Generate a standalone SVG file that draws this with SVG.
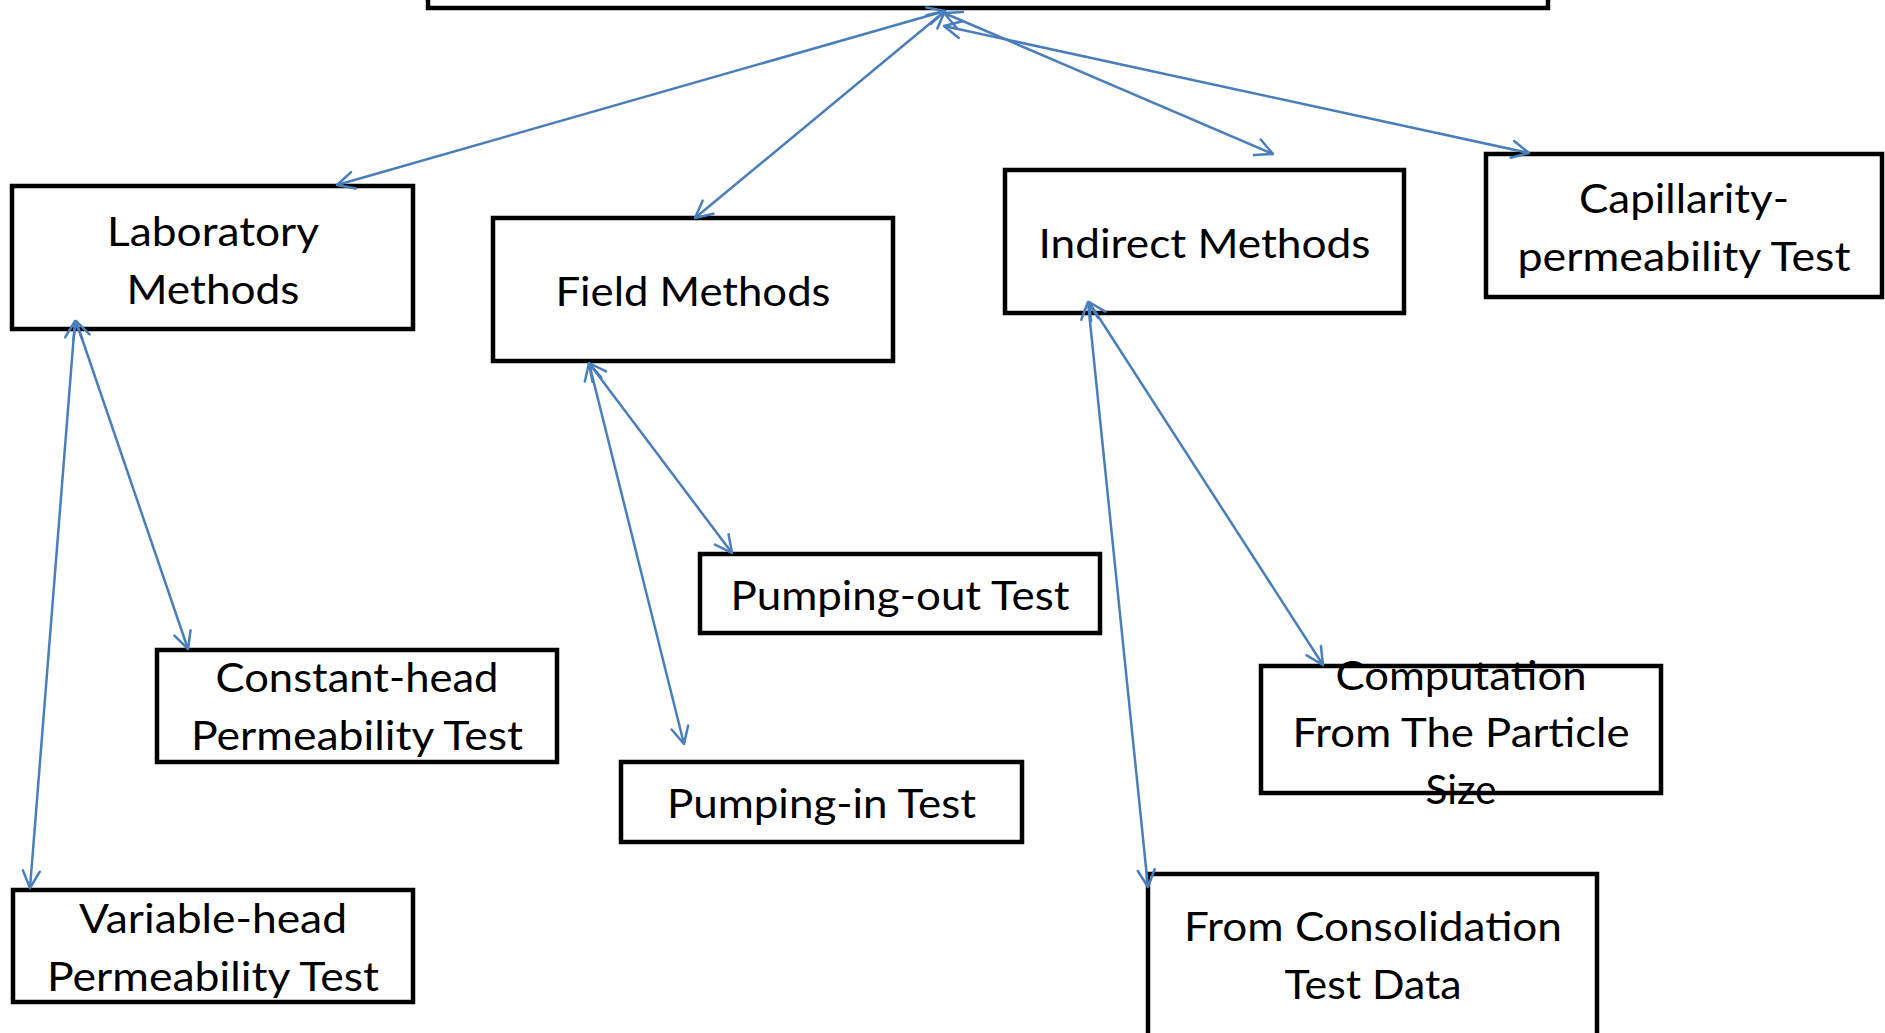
<svg xmlns="http://www.w3.org/2000/svg" width="1885" height="1033" viewBox="0 0 1885 1033">
  <style>
    .box { fill: #ffffff; stroke: #000000; stroke-width: 4.5; }
    .lbl { font-family: "Lato", "Liberation Sans", sans-serif; font-size: 40px; fill: #000000; text-anchor: middle; }
    .link { stroke: #4a7ebb; stroke-width: 2.5; fill: none; marker-start: url(#open); marker-end: url(#open); }
  </style>
  <defs>
    <!-- open V arrowhead used on both ends of every connector -->
    <marker id="open" markerUnits="userSpaceOnUse" markerWidth="40" markerHeight="40" viewBox="-20 -20 40 40" refX="0" refY="0" orient="auto-start-reverse">
      <path d="M-17,-8.5 L0,0 L-17,8.5" fill="none" stroke="#4a7ebb" stroke-width="2.5" stroke-linecap="round" stroke-linejoin="round"/>
    </marker>
  </defs>
  <rect width="1885" height="1033" fill="#ffffff"/>

  <!-- root box, mostly above the top edge -->
  <g id="root">
    <rect class="box" x="428" y="-100" width="1120" height="108"/>
  </g>

  <g id="laboratory">
    <rect class="box" x="12" y="186" width="401" height="143"/>
    <text class="lbl" x="213" y="246" textLength="212" lengthAdjust="spacingAndGlyphs">Laboratory</text>
    <text class="lbl" x="213" y="304" textLength="173" lengthAdjust="spacingAndGlyphs">Methods</text>
  </g>

  <g id="field">
    <rect class="box" x="493" y="218" width="400" height="143"/>
    <text class="lbl" x="693" y="306" textLength="275" lengthAdjust="spacingAndGlyphs">Field Methods</text>
  </g>

  <g id="indirect">
    <rect class="box" x="1005" y="170" width="399" height="143"/>
    <text class="lbl" x="1204.5" y="258" textLength="332" lengthAdjust="spacingAndGlyphs">Indirect Methods</text>
  </g>

  <g id="capillarity">
    <rect class="box" x="1486" y="154" width="396" height="143"/>
    <text class="lbl" x="1684" y="213" textLength="210" lengthAdjust="spacingAndGlyphs">Capillarity-</text>
    <text class="lbl" x="1684" y="271" textLength="333" lengthAdjust="spacingAndGlyphs">permeability Test</text>
  </g>

  <g id="constant-head">
    <rect class="box" x="157" y="650" width="400" height="112"/>
    <text class="lbl" x="357" y="692" textLength="283" lengthAdjust="spacingAndGlyphs">Constant-head</text>
    <text class="lbl" x="357" y="750" textLength="332" lengthAdjust="spacingAndGlyphs">Permeability Test</text>
  </g>

  <g id="variable-head">
    <rect class="box" x="13" y="890" width="400" height="112"/>
    <text class="lbl" x="213" y="933" textLength="268" lengthAdjust="spacingAndGlyphs">Variable-head</text>
    <text class="lbl" x="213" y="991" textLength="332" lengthAdjust="spacingAndGlyphs">Permeability Test</text>
  </g>

  <g id="pumping-out">
    <rect class="box" x="700" y="554" width="400" height="79"/>
    <text class="lbl" x="900" y="610" textLength="339" lengthAdjust="spacingAndGlyphs">Pumping-out Test</text>
  </g>

  <g id="pumping-in">
    <rect class="box" x="621" y="762" width="401" height="80"/>
    <text class="lbl" x="821.5" y="818" textLength="309" lengthAdjust="spacingAndGlyphs">Pumping-in Test</text>
  </g>

  <g id="particle-size">
    <rect class="box" x="1261" y="666" width="400" height="127"/>
    <text class="lbl" x="1461" y="690" textLength="251" lengthAdjust="spacingAndGlyphs">Computation</text>
    <text class="lbl" x="1461" y="747" textLength="337" lengthAdjust="spacingAndGlyphs">From The Particle</text>
    <text class="lbl" x="1461" y="804" textLength="71" lengthAdjust="spacingAndGlyphs">Size</text>
  </g>

  <g id="consolidation">
    <rect class="box" x="1148" y="874" width="449" height="170"/>
    <text class="lbl" x="1373" y="941" textLength="378" lengthAdjust="spacingAndGlyphs">From Consolidation</text>
    <text class="lbl" x="1373" y="999" textLength="177" lengthAdjust="spacingAndGlyphs">Test Data</text>
  </g>

  <g id="connectors">
    <line class="link" x1="945" y1="11" x2="337" y2="185"/>
    <line class="link" x1="945" y1="11" x2="695" y2="218"/>
    <line class="link" x1="944" y1="13" x2="1273" y2="154"/>
    <line class="link" x1="944" y1="26" x2="1529" y2="153"/>
    <line class="link" x1="76" y1="321" x2="188" y2="649"/>
    <line class="link" x1="75" y1="321" x2="30" y2="888"/>
    <line class="link" x1="589" y1="363" x2="732" y2="553"/>
    <line class="link" x1="589" y1="363" x2="684" y2="744"/>
    <line class="link" x1="1089" y1="302" x2="1323" y2="665"/>
    <line class="link" x1="1088" y1="302" x2="1148" y2="887"/>
  </g>
</svg>
